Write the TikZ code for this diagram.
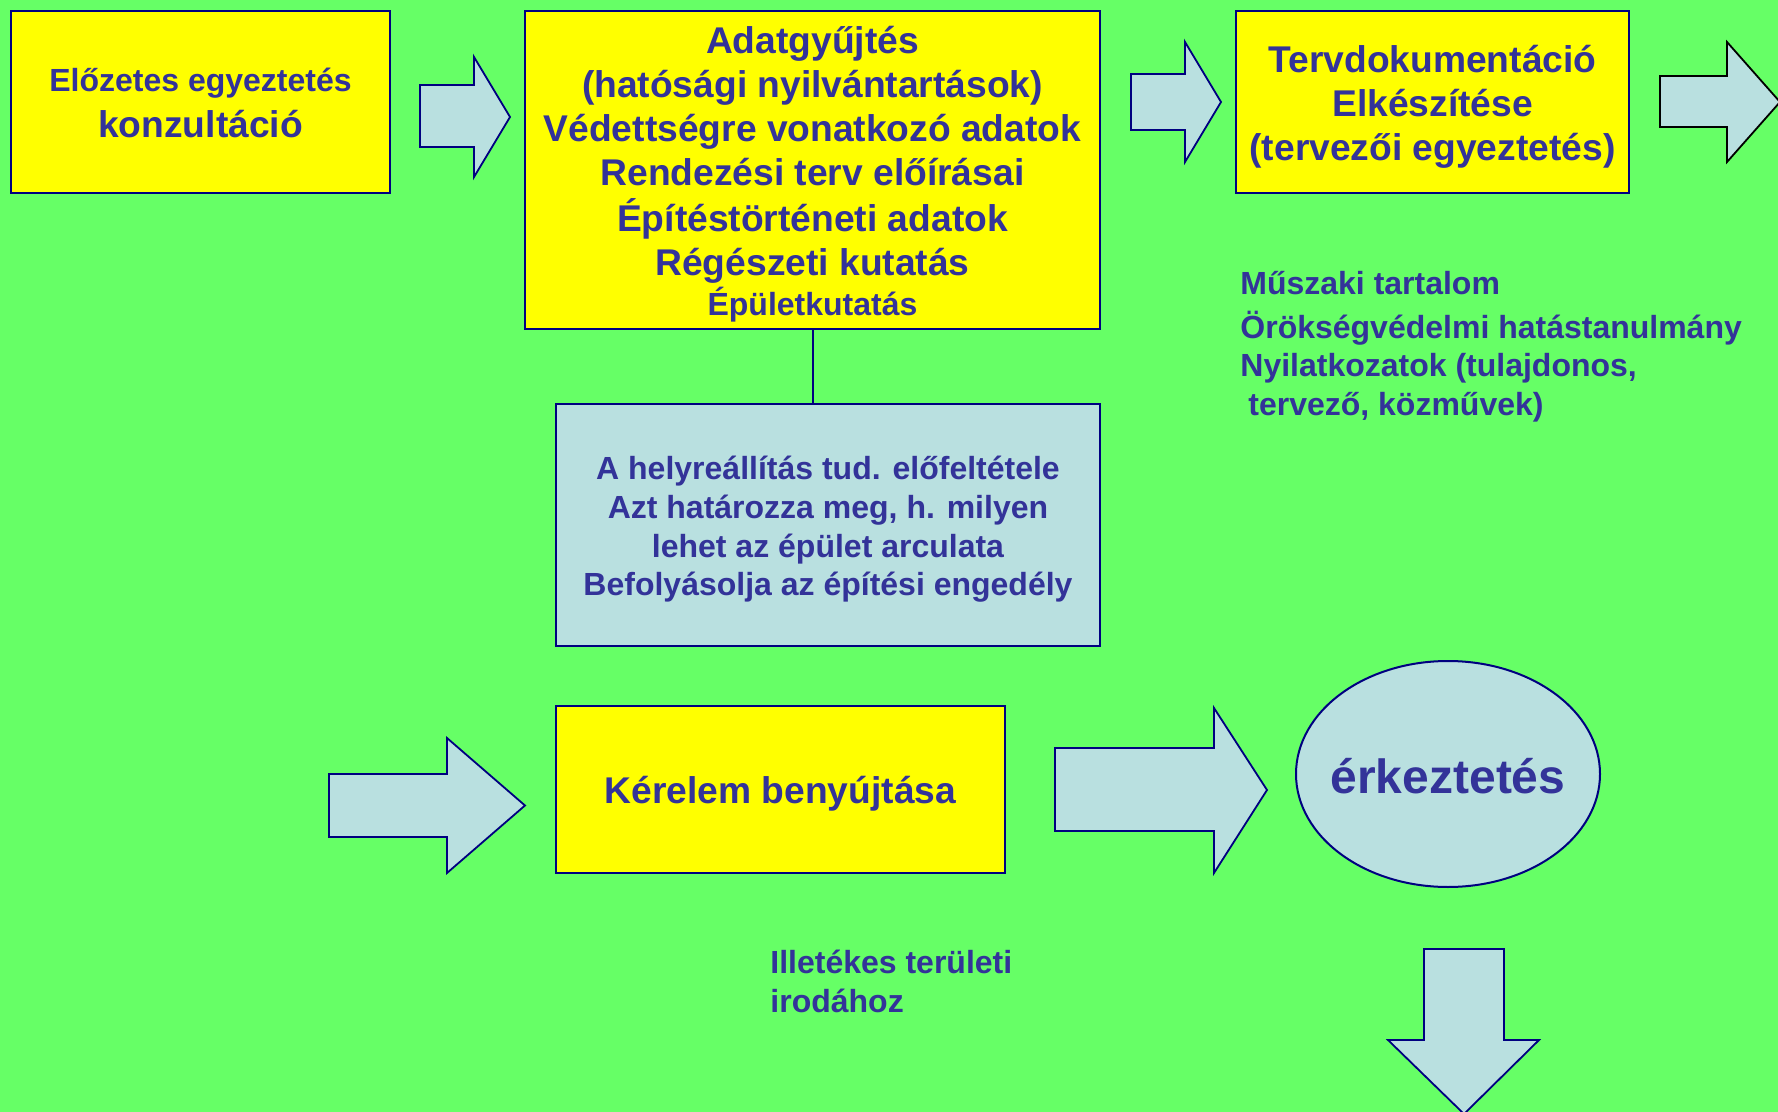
\documentclass[tikz,border=0pt]{standalone}
\usepackage{fontspec}
\setmainfont{Liberation Sans}
\usetikzlibrary{shapes.geometric}
\definecolor{bggreen}{HTML}{66FF66}
\definecolor{boxyellow}{HTML}{FFFF00}
\definecolor{lblue}{HTML}{B9E0E0}
\definecolor{txt}{HTML}{333399}
\definecolor{edge}{HTML}{000080}
\newcommand{\bigf}{\fontsize{18.6}{22}\selectfont}
\newcommand{\midf}{\fontsize{16}{19.3}\selectfont}
\newcommand{\txtlines}[2]{\raisebox{#1}[\height][\depth]{\begin{tabular}{@{}c@{}}#2\end{tabular}}}
\tikzset{
  ybox/.style={draw=edge, line width=1pt, fill=boxyellow, inner sep=0pt, text=txt},
  bbox/.style={draw=edge, line width=1pt, fill=lblue, inner sep=0pt, text=txt},
  barrow/.style={draw=edge, line width=0.9pt, fill=lblue, line join=miter},
  plain/.style={inner sep=0pt, text=txt},
}
\begin{document}
\begin{tikzpicture}[x=1pt,y=-1pt]
\fill[bggreen] (0,0) rectangle (889,556);
\useasboundingbox (0,0) rectangle (889,556);
% boxes
\node[ybox, minimum width=189.5pt, minimum height=91pt, font=\bfseries\midf] (b1) at (100.25,51)
  {\txtlines{-2.3pt}{Előzetes egyeztetés\\[3.3pt]\bigf konzultáció}};
\node[ybox, minimum width=287.5pt, minimum height=159pt, font=\bfseries\bigf] (b2) at (406.25,85)
  {\txtlines{-2.8pt}{Adatgyűjtés\\(hatósági nyilvántartások)\\Védettségre vonatkozó adatok\\Rendezési terv előírásai\\Építéstörténeti adatok\\Régészeti kutatás\\[-2pt]\midf Épületkutatás}};
\node[ybox, minimum width=196.5pt, minimum height=91pt, font=\bfseries\bigf] (b3) at (716.25,51)
  {\txtlines{-2.8pt}{Tervdokumentáció\\Elkészítése\\(tervezői egyeztetés)}};
\node[bbox, minimum width=272pt, minimum height=121pt, font=\bfseries\midf] (b4) at (414,262.5)
  {\txtlines{-2.5pt}{A helyreállítás tud. előfeltétele\\Azt határozza meg, h. milyen\\lehet az épület arculata\\Befolyásolja az építési engedély}};
\node[ybox, minimum width=224.5pt, minimum height=83.5pt, font=\bfseries\bigf] (b5) at (390.25,394.75)
  {\raisebox{-2.3pt}[\height][\depth]{Kérelem benyújtása}};
\node[draw=edge, line width=1pt, fill=lblue, ellipse, inner sep=0pt, minimum width=152pt, minimum height=113pt, text=txt, font=\bfseries\fontsize{24}{28}\selectfont] (e1) at (724,387)
  {\makebox[0pt]{\raisebox{-1.1pt}[\height][\depth]{érkeztetés}}};
% connector line
\draw[edge, line width=1pt] (b2.south) -- (b4.north -| b2.south);
% texts
\node[plain, anchor=north west, align=left, font=\bfseries\midf] (t1) at (620,135.5)
  {Műszaki tartalom\\[2.5pt]Örökségvédelmi hatástanulmány\\Nyilatkozatok (tulajdonos,\\\hspace{0.25em}tervező, közművek)};
\node[plain, anchor=north west, align=left, font=\bfseries\midf] (t2) at (385,475)
  {Illetékes területi\\irodához};
% block arrows
\draw[barrow] (210,42.5) -- (237,42.5) -- (237,28.5) -- (255,58.5) -- (237,88.5) -- (237,73.5) -- (210,73.5) -- cycle;
\draw[barrow] (565.5,37) -- (592.5,37) -- (592.5,21) -- (610.5,51) -- (592.5,81) -- (592.5,65) -- (565.5,65) -- cycle;
\draw[draw=black, line width=0.9pt, fill=lblue] (830,38) -- (863.5,38) -- (863.5,21) -- (890,51) -- (863.5,81) -- (863.5,63.5) -- (830,63.5) -- cycle;
\draw[barrow] (164.5,387) -- (223.5,387) -- (223.5,369) -- (262.5,402.75) -- (223.5,436.5) -- (223.5,418.5) -- (164.5,418.5) -- cycle;
\draw[barrow] (527.5,374) -- (607,374) -- (607,354) -- (633.5,395) -- (607,436.5) -- (607,415.5) -- (527.5,415.5) -- cycle;
\draw[barrow] (712,474.5) -- (752,474.5) -- (752,520) -- (769.5,520) -- (732,557) -- (694,520) -- (712,520) -- cycle;
\end{tikzpicture}
\end{document}
